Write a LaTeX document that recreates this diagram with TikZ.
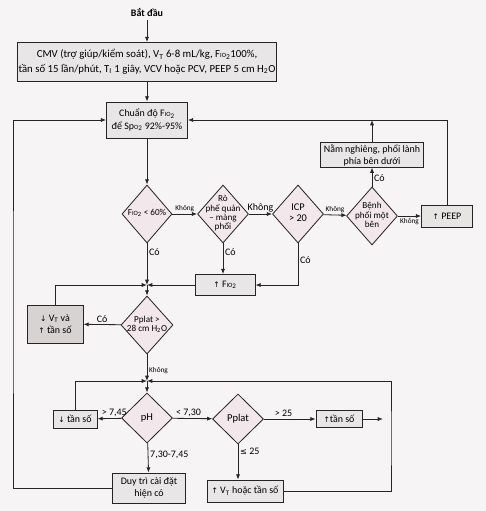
\documentclass[tikz,border=0pt]{standalone}
\usepackage{fontspec}
\setmainfont{Carlito}
\newfontfamily\dvfont{DejaVu Sans}
\usetikzlibrary{shapes.geometric,arrows.meta,positioning}
\tikzset{node distance=2.0cm, auto}
\definecolor{linec}{HTML}{262424}
\definecolor{boxgray}{HTML}{E9E6E7}
\definecolor{darkgray}{HTML}{D6D3D2}
\definecolor{decpink}{HTML}{F2E7EB}
\definecolor{paper}{HTML}{F6F4F4}
\newcommand{\tang}{{\dvfont\fontsize{6.5}{7}\selectfont ↑}}
\newcommand{\giam}{{\dvfont\fontsize{6.5}{7}\selectfont ↓}}
\newcommand{\fio}{F{\fontsize{5.5}{6}\selectfont IO}\textsubscript{2}}
\newcommand{\spo}{Sp{\fontsize{5.5}{6}\selectfont O}\textsubscript{2}}
\newcommand{\dtxt}[1]{\smash{\raisebox{-.25em}{\makebox[0pt]{\def\arraystretch{0.85}\begin{tabular}{@{}c@{}}#1\end{tabular}}}}}

\begin{document}
\begin{tikzpicture}[
  x=0.03cm, y=-0.03cm,
  line/.style={draw=linec, line width=0.7pt},
  arr/.style={line, -{Latex[length=4.5pt,width=3.5pt]}},
  box/.style={draw=linec, line width=0.7pt, fill=boxgray, align=center,
    inner sep=1pt, font=\fontsize{8.5}{10.5}\selectfont},
  dec/.style={diamond, draw=linec, line width=0.7pt, fill=decpink,
    inner sep=0pt, font=\fontsize{7.8}{8.8}\selectfont},
  lbl/.style={font=\fontsize{8.5}{9.5}\selectfont, inner sep=1.5pt},
  small/.style={font=\fontsize{6.2}{7}\selectfont, inner sep=1.5pt}
]
\fill[paper] (0,0) rectangle (486,511);
\useasboundingbox (0,0) rectangle (486,511);

\node[font=\bfseries\fontsize{8.5}{10}\selectfont] (start) at (147,12) {Bắt đầu};
\node[box, minimum width=7.5cm, minimum height=1.17cm, font=\fontsize{9.2}{12.5}\selectfont] (cmv) at (147,62)
  {CMV (trợ giúp/kiểm soát), V\textsubscript{T} 6-8 mL/kg, \fio 100\%,\\
   tần số 15 lần/phút, T\textsubscript{I} 1 giây, VCV hoặc PCV, PEEP 5 cm H\textsubscript{2}O};
\node[box, minimum width=2.43cm, minimum height=1.08cm] (chuan) at (147,120)
  {Chuẩn độ \fio\\để \spo{} 92\%-95\%};

\node[dec, minimum width=1.5cm, minimum height=1.74cm] (fiodec) at (147,214) {\dtxt{\fio{} < 60\%}};
\node[dec, minimum width=1.53cm, minimum height=1.74cm] (ro) at (223,214) {\dtxt{Rò\\phế quản\\– màng\\phổi}};
\node[dec, minimum width=1.53cm, minimum height=1.74cm, font=\fontsize{8.8}{10.5}\selectfont] (icp) at (298,214) {\dtxt{ICP\\> 20}};
\node[dec, minimum width=1.53cm, minimum height=1.74cm] (benh) at (372,216) {\dtxt{Bệnh\\phổi một\\bên}};
\node[box, fill=darkgray!60, minimum width=1.53cm, minimum height=0.66cm] (peep) at (447,216) {\tang{} PEEP};
\node[box, minimum width=3.09cm, minimum height=0.69cm] (nam) at (372,155)
  {Nằm nghiêng, phổi lành\\phía bên dưới};
\node[box, minimum width=1.8cm, minimum height=0.63cm] (fiobox) at (225,285) {\tang{} \fio};

\coordinate (j1) at (147,285);
\node[dec, minimum width=1.56cm, minimum height=1.74cm] (pplat28) at (147,325) {\dtxt{Pplat >\\28 cm H\textsubscript{2}O}};
\node[box, fill=darkgray, minimum width=1.68cm, minimum height=1.14cm] (giam) at (55,324)
  {\giam{} V\textsubscript{T} và\\\tang{} tần số};

\coordinate (j2) at (147,381);
\node[dec, minimum width=1.53cm, minimum height=1.5cm, font=\fontsize{9}{10}\selectfont] (ph) at (147,418) {pH};
\node[dec, minimum width=1.53cm, minimum height=1.5cm, font=\fontsize{9}{10}\selectfont] (pplat) at (238,419) {Pplat};
\node[box, minimum width=1.32cm, minimum height=0.54cm] (giamts) at (75,419) {\giam{} tần số};
\node[box, minimum width=1.38cm, minimum height=0.51cm] (tangts) at (339,419) {\tang tần số};
\coordinate (tsend) at (383,419);
\node[box, minimum width=2.19cm, minimum height=0.9cm] (duytri) at (149,488) {Duy trì cài đặt\\hiện có};
\node[box, minimum width=2.28cm, minimum height=0.66cm] (tangvt) at (245,491)
  {\tang{} V\textsubscript{T} hoặc tần số};
\coordinate (leftrail) at (13,300);
\coordinate (rightrail) at (391,440);

\draw[arr] (start) -- (cmv);
\draw[arr] (cmv) -- (chuan);
\draw[arr] (chuan) -- (fiodec);
\draw[arr] (fiodec) -- node[small, above] {Không} (ro);
\draw[arr] (ro) -- node[lbl, above] {Không} (icp);
\draw[arr] (icp) -- node[small, above] {Không} (benh);
\draw[arr] (benh.east) -- node[small, below] {Không} (benh.east -| peep.west);
\draw[arr] (benh) -- node[lbl, right, pos=0.45] {Có} (nam);
\draw[arr] (nam.north) -- (nam.north |- chuan.east);
\draw[arr] (peep.north) |- (chuan.east);
\draw[arr] (duytri.west) -| (leftrail) |- (chuan.west);

\draw[arr] (fiodec) -- node[lbl, right, pos=0.2] {Có} (j1);
\draw[arr] (ro.south) -- node[lbl, right, pos=0.3] {Có} (ro.south |- fiobox.north);
\draw[arr] (icp.south) |- node[lbl, right, pos=0.2] {Có} (fiobox.east);
\draw[arr] (fiobox) -- (j1);
\draw[arr] (giam.north) |- (j1);
\draw[arr] (j1) -- (pplat28);
\draw[arr] (pplat28) -- node[lbl, above] {Có} (giam);

\draw[arr] (pplat28) -- node[small, right, pos=0.6] {Không} (j2);
\draw[arr] (giamts.north) |- (j2);
\draw[arr] (tangvt.east) -| (rightrail) |- (j2);
\draw[arr] (j2) -- (ph);
\draw[arr] (ph) -- node[lbl, above, pos=0.3] {> 7,45} (giamts);
\draw[arr] (ph) -- node[lbl, above, pos=0.4] {< 7,30} (pplat);
\draw[arr] (pplat) -- node[lbl, above, pos=0.38] {> 25} (tangts);
\draw[arr] (tangts) -- (tsend);
\draw[arr] (pplat.south) -- node[lbl, right, pos=0.2] {{\dvfont\fontsize{7}{8}\selectfont ≤} 25} (pplat.south |- tangvt.north);
\draw[arr] (ph) -- node[lbl, right, pos=0.4] {7,30-7,45} (duytri);
\end{tikzpicture}
\end{document}
